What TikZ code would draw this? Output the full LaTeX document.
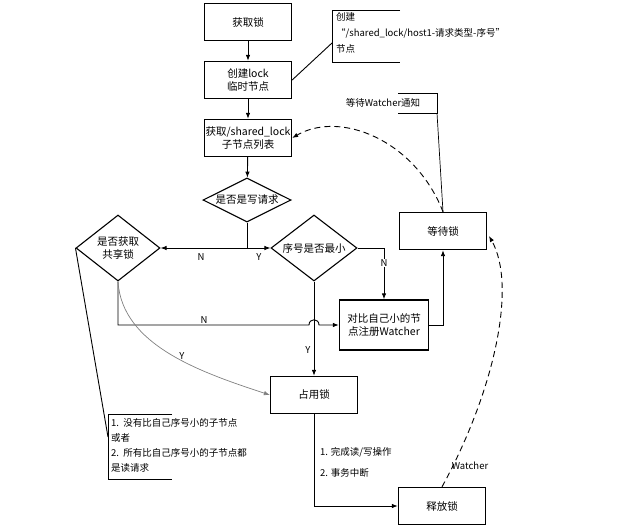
\documentclass[tikz,border=0pt]{standalone}
\usepackage{fontspec}
\setmainfont{Noto Sans CJK SC}
\usetikzlibrary{shapes.geometric,arrows.meta}
\newcommand{\boxfs}{\fontsize{10.5}{13}\selectfont}
\newcommand{\notefs}{\fontsize{9.5}{15}\selectfont}
\begin{document}
\begin{tikzpicture}[x=1pt,y=-1pt,
  stepbox/.style={draw, line width=1.3pt, minimum width=87pt, minimum height=37pt, inner sep=0pt, font=\boxfs, align=center},
  dia/.style={draw, diamond, line width=1.1pt, inner sep=0pt},
  txt/.style={font=\boxfs, align=center, inner sep=0pt},
  note/.style={font=\notefs, align=left, inner sep=0pt},
  lbl/.style={font=\fontsize{9.5}{11}\selectfont, inner sep=1pt},
  arr/.style={-{Latex[length=6pt,width=4.5pt]}, line width=0.9pt},
  dsh/.style={-{Latex[length=6pt,width=4.5pt]}, line width=0.9pt, dash pattern=on 6pt off 4pt},
  thin/.style={line width=0.9pt}]
\useasboundingbox (0,0) rectangle (624,530);

% boxes
\node[stepbox] (get) at (248,22) {获取锁};
\node[stepbox] (create) at (248,80) {创建lock\\临时节点};
\node[stepbox] (list) at (248,138) {获取/shared\_lock\\子节点列表};
\node[dia, minimum width=88pt, minimum height=44pt] (isw) at (247,200) {};
\node[txt] (iswt) at (isw) {是否是写请求};
\node[dia, minimum width=84pt, minimum height=66pt] (iss) at (118,248) {};
\node[txt] (isst) at (iss) {是否获取\\共享锁};
\node[dia, minimum width=86pt, minimum height=66pt] (ismin) at (314,248) {};
\node[txt] (ismint) at (ismin) {序号是否最小};
\node[stepbox] (wait) at (443,231) {等待锁};
\node[stepbox, minimum width=89pt, minimum height=50pt] (cmp) at (384,325) {对比自己小的节\\点注册Watcher};
\node[stepbox] (occ) at (314,395) {占用锁};
\node[stepbox] (rel) at (442,506) {释放锁};

% main flow
\draw[arr] (get) -- (create);
\draw[arr] (create) -- (list);
\draw[arr] (list) -- (isw);
\coordinate (j) at (247,248);
\draw[thin] (isw.south) -- (j);
\draw[arr] (j) -- (iss.east);
\draw[arr] (j) -- (ismin.west);
\node[lbl] (ln1) at (201,257) {N};
\node[lbl] (ly1) at (259,257) {Y};

\draw[arr] (ismin.east) -| (cmp.north);
\node[lbl, fill=white] (ln2) at (384,263) {N};
\draw[arr] (cmp.east) -| (wait.south);

\draw[arr] (ismin.south) -- (occ.north);
\node[lbl] (ly2) at (308,350) {Y};

\coordinate (hopL) at (309,325);
\coordinate (hopR) at (319,325);
\draw[arr] (iss.south) |- (hopL) .. controls +(0,-7) and +(0,-7) .. (hopR) -- (cmp.west);
\node[lbl] (ln3) at (204,320) {N};

\draw[arr, gray, line width=0.7pt] (iss.south) .. controls (122,345) and (200,372) .. (occ.west);
\node[lbl] (ly3) at (182,356) {Y};

\draw[arr] (occ.south) |- (rel.west);
\node[note, anchor=west] (s1) at (320,452) {1. 完成读/写操作};
\node[note, anchor=west] (s2) at (320,473) {2. 事务中断};

% dashed watcher curves
\draw[dsh] (wait.north) .. controls (415,140) and (340,110) .. (list.east);
\coordinate (wend) at (489,236);
\draw[dsh] (rel.north) .. controls (495,390) and (517,285) .. (wend);
\node[lbl] (wl) at (470,466) {Watcher};

% callout: create node
\draw[thin] (400,10) -- (332,10) -- (332,62) -- (400,62);
\coordinate (c1a) at (332,43);
\draw[thin] (create.east) -- (c1a);
\node[note, anchor=north west, font=\fontsize{9.5}{16}\selectfont] (c1) at (336,12) {创建\\“/shared\_lock/host1-请求类型-序号”\\节点};

% callout: wait watcher
\draw[thin] (398,93) -- (437,93) -- (437,113) -- (398,113);
\coordinate (c2a) at (437,113);
\draw[line width=0.7pt] (c2a) -- (wait.north);
\node[note] (c2) at (383,103) {等待Watcher通知};

% callout: shared lock condition
\draw[thin] (172,414) -- (108,414) -- (108,479) -- (172,479);
\coordinate (c3a) at (108,437);
\draw[thin] (iss.west) -- (c3a);
\node[note, anchor=north west] (c3) at (111,418) {1.\ \ 没有比自己序号小的子节点\\或者\\2.\ \ 所有比自己序号小的子节点都\\是读请求};
\end{tikzpicture}
\end{document}
